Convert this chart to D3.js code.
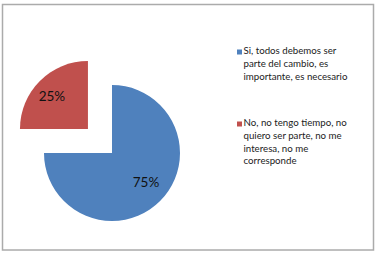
<!DOCTYPE html>
<html><head><meta charset="utf-8">
<script src="https://cdn.jsdelivr.net/npm/d3@7/dist/d3.min.js"></script>
<style>body{margin:0;background:#fff}svg{display:block}</style>
</head><body>
<script>
const categories = [
  ["Si, todos debemos ser", "parte del cambio, es", "importante, es necesario"],
  ["No, no tengo tiempo, no", "quiero ser parte, no me", "interesa, no me", "corresponde"]
];
const values = [75, 25];
const labels = ["75%", "25%"];
const colors = ["#4f81bd", "#c0504d"];

const W = 378, H = 255;
const svg = d3.select("body").append("svg").attr("width", W).attr("height", H);
svg.append("rect").attr("x", 2.5).attr("y", 4.5).attr("width", 371).attr("height", 245.5)
  .attr("fill", "#fff").attr("stroke", "#ababab").attr("stroke-width", 1.5);

const cx = 112, cy = 153, r = 68, explode = 34;
const pie = d3.pie().sort(null).value(d => d).startAngle(0);
const arcs = pie(values);
const arc = d3.arc().innerRadius(0).outerRadius(r);
const g = svg.append("g").attr("transform", `translate(${cx},${cy})`);
const labelOffsets = [[0, 0], [0, 5]];
const labelRadius = [0.72, 0.75];
arcs.forEach((a, i) => {
  const mid = (a.startAngle + a.endAngle) / 2;
  const off = i === 1 ? explode : 0;
  const dx = Math.sin(mid) * off, dy = -Math.cos(mid) * off;
  const sg = g.append("g").attr("transform", `translate(${dx},${dy})`);
  sg.append("path").attr("d", arc(a)).attr("fill", colors[i]);
});
arcs.forEach((a, i) => {
  const mid = (a.startAngle + a.endAngle) / 2;
  const off = i === 1 ? explode : 0;
  const dx = Math.sin(mid) * off, dy = -Math.cos(mid) * off;
  let px, py;
  if (i === 0) { px = 34; py = 31; }
  else { px = Math.sin(mid) * r * labelRadius[i] + dx + labelOffsets[i][0];
         py = -Math.cos(mid) * r * labelRadius[i] + dy + labelOffsets[i][1]; }
  g.append("text").attr("x", px).attr("y", py).attr("text-anchor", "middle")
    .attr("dominant-baseline", "middle")
    .attr("font-family", "Lato, 'Open Sans', sans-serif").attr("font-size", 13.5)
    .attr("fill", "#111").text(labels[i]);
});

// legend
const legY = [52, 124];
categories.forEach((lines, i) => {
  const lg = svg.append("g").attr("transform", `translate(237,${legY[i]})`);
  lg.append("rect").attr("x", 0).attr("y", -2.5).attr("width", 5).attr("height", 5).attr("fill", colors[i]);
  lines.forEach((t, j) => {
    lg.append("text").attr("x", 6.5).attr("y", j * 12.6).attr("dominant-baseline", "middle")
      .attr("font-family", "Lato, 'Open Sans', sans-serif").attr("font-size", 9.7)
      .attr("fill", "#222").text(t);
  });
});
</script>
</body></html>
